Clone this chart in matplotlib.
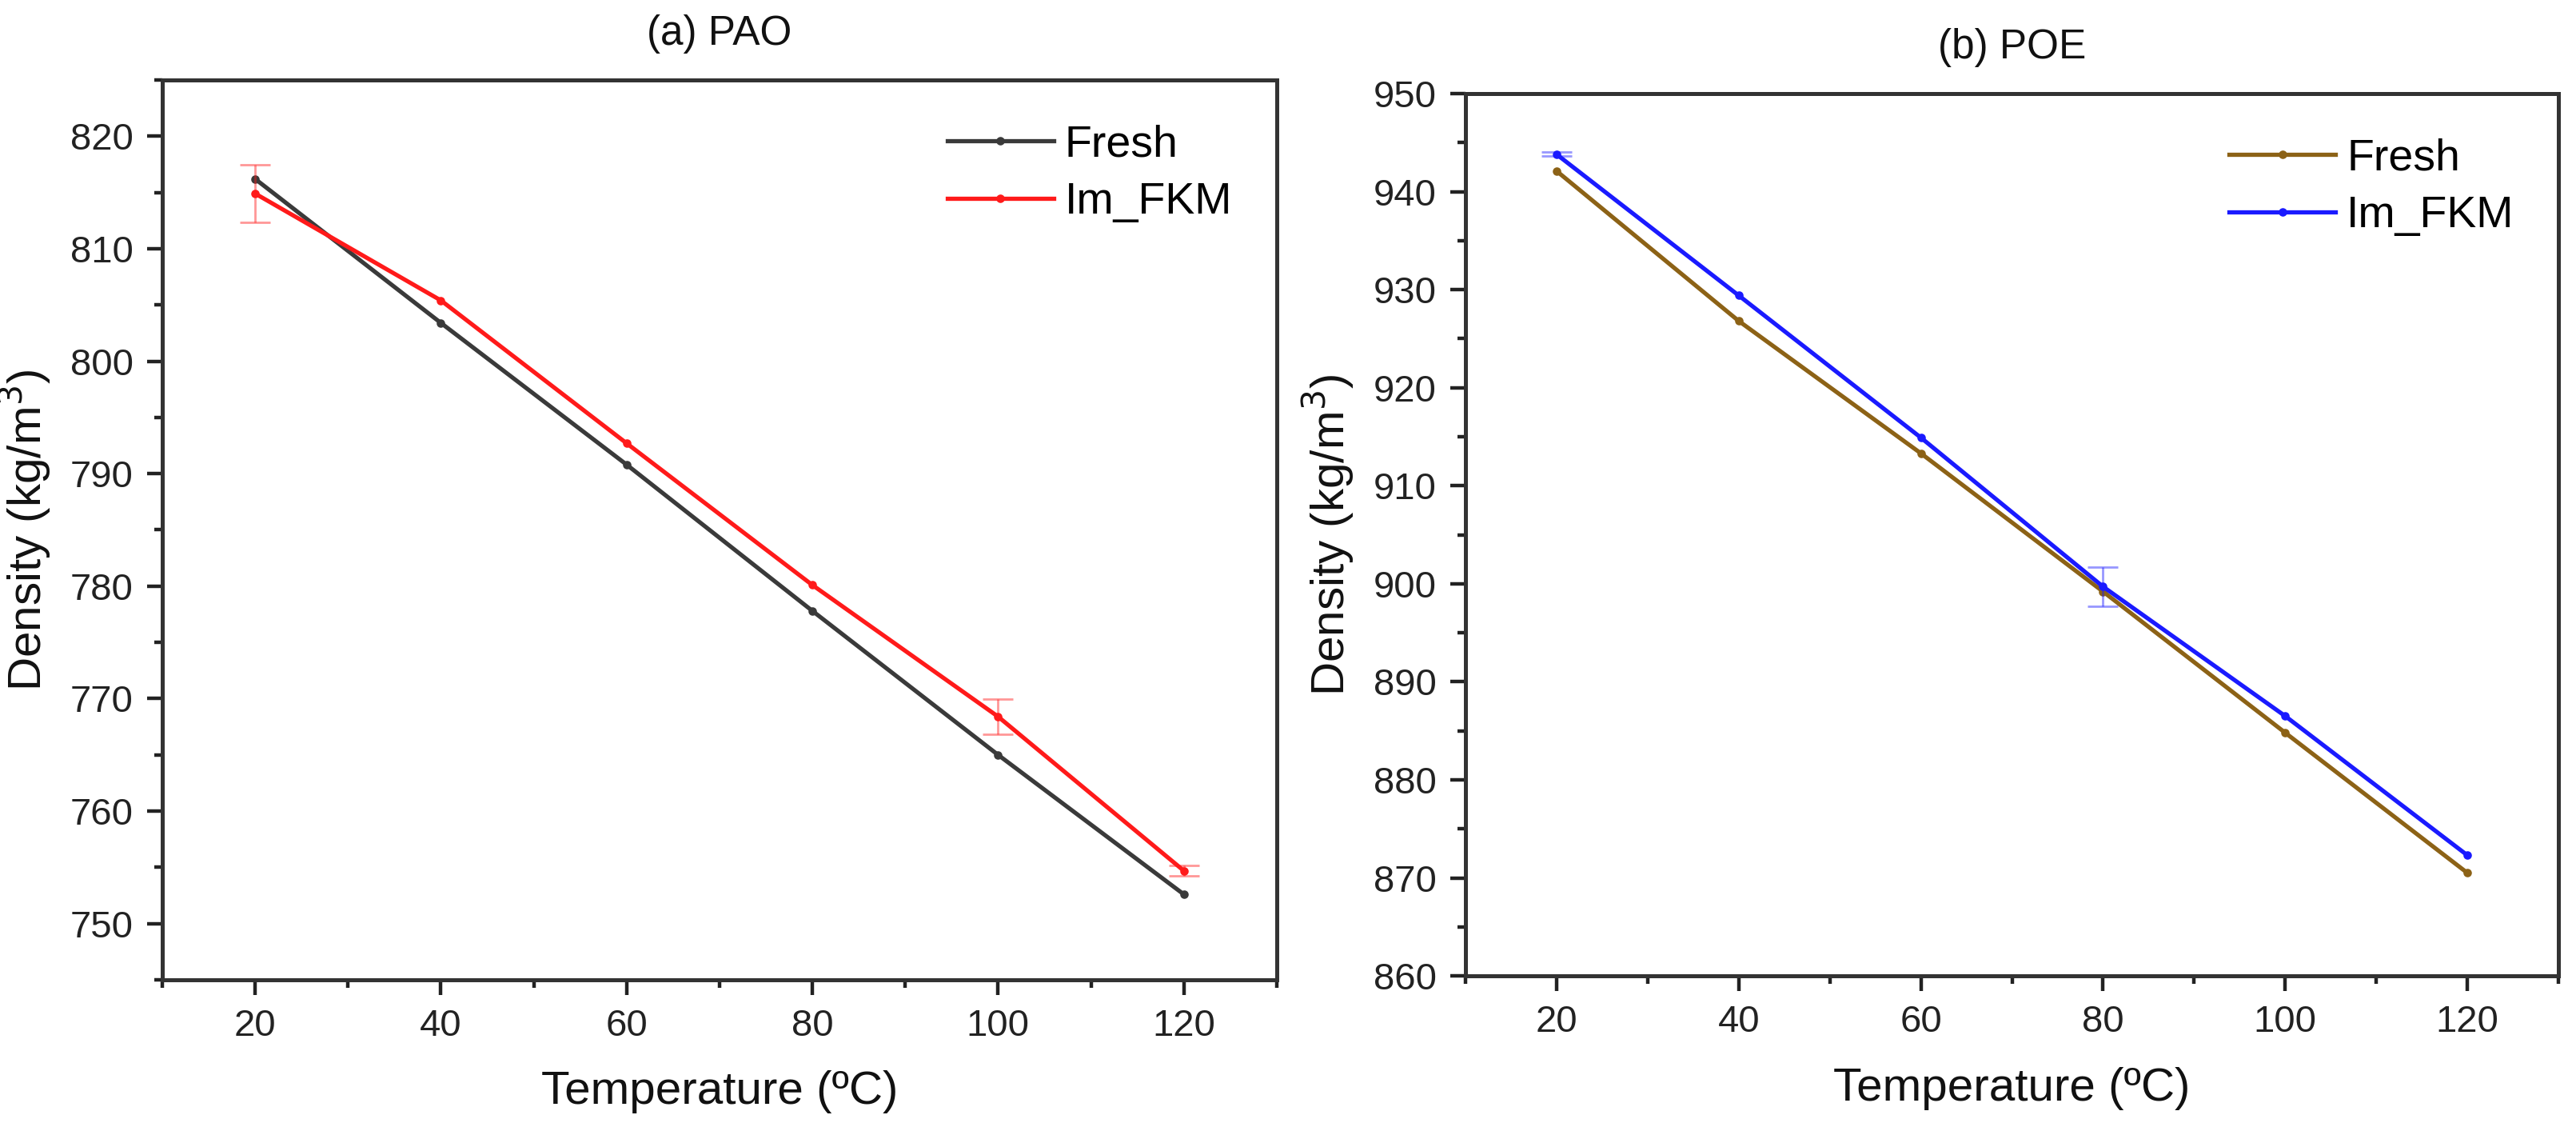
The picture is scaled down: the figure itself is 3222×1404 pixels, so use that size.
import matplotlib
matplotlib.use("Agg")
import matplotlib.pyplot as plt
from matplotlib.ticker import MultipleLocator
from matplotlib.lines import Line2D

plt.rcParams['font.family'] = ['Liberation Sans', 'DejaVu Sans']

temperature = [20, 40, 60, 80, 100, 120]

pao_fresh = [816.2, 803.4, 790.8, 777.8, 765.0, 752.6]
pao_fresh_err = [0.0, 0.0, 0.0, 0.0, 0.0, 0.0]
pao_imfkm = [814.9, 805.4, 792.7, 780.1, 768.4, 754.7]
pao_imfkm_err = [2.55, 0.0, 0.0, 0.0, 1.55, 0.45]

poe_fresh = [942.1, 926.8, 913.3, 899.2, 884.8, 870.5]
poe_fresh_err = [0.0, 0.0, 0.0, 0.0, 0.0, 0.0]
poe_imfkm = [943.8, 929.4, 914.9, 899.7, 886.5, 872.3]
poe_imfkm_err = [0.2, 0.0, 0.0, 2.0, 0.0, 0.0]

titles = ["(a) PAO", "(b) POE"]
series_labels = ["Fresh", "Im_FKM"]
xlabel = "Temperature (\u00baC)"
ylabel = "Density (kg/m$^3$)"

fig = plt.figure(figsize=(16.11, 7.02), dpi=200)
ax1 = fig.add_axes([0.0630, 0.1275, 0.4326, 0.8013])
ax2 = fig.add_axes([0.5689, 0.1310, 0.4243, 0.7857])

panels = [
    (ax1, pao_fresh, pao_fresh_err, pao_imfkm, pao_imfkm_err,
     '#3a3a3a', '#ff1a1a', (745, 825), 10),
    (ax2, poe_fresh, poe_fresh_err, poe_imfkm, poe_imfkm_err,
     '#8c6216', '#1a1aff', (860, 950), 10),
]

for i, (ax, f, fe, m, me, c1, c2, ylim, ystep) in enumerate(panels):
    handles = []
    for vals, errs, col, lab in ((f, fe, c1, series_labels[0]),
                                 (m, me, c2, series_labels[1])):
        ax.plot(temperature, vals, color=col, lw=1.9, marker='o', ms=2.8)
        ex = [t for t, e in zip(temperature, errs) if e > 0]
        ey = [v for v, e in zip(vals, errs) if e > 0]
        ee = [e for e in errs if e > 0]
        if ex:
            eb = ax.errorbar(ex, ey, yerr=ee, fmt='none', ecolor=col,
                             elinewidth=1.0, capsize=7, capthick=1.0)
            for part in list(eb[1]) + list(eb[2]):
                part.set_alpha(0.45)
        handles.append(Line2D([], [], color=col, lw=1.9, marker='o', ms=2.8,
                              label=lab))
    ax.set_xlim(10, 130)
    ax.set_ylim(*ylim)
    ax.xaxis.set_major_locator(MultipleLocator(20))
    ax.xaxis.set_minor_locator(MultipleLocator(10))
    ax.yaxis.set_major_locator(MultipleLocator(ystep))
    ax.yaxis.set_minor_locator(MultipleLocator(ystep / 2))
    ax.tick_params(which='major', direction='out', length=7, width=1.6,
                   labelsize=17, color='#222222', labelcolor='#222222', pad=6)
    ax.tick_params(which='minor', direction='out', length=3.5, width=1.6,
                   color='#222222')
    ax.tick_params(top=False, right=False)
    for s in ax.spines.values():
        s.set_linewidth(1.8)
        s.set_color('#333333')
    ax.set_xlabel(xlabel, fontsize=21, labelpad=12, color='#111111')
    ax.set_ylabel(ylabel, fontsize=21, labelpad=8, color='#111111')
    ax.set_title(titles[i], fontsize=18.5, pad=16, color='#111111')
    ax.legend(handles=handles, loc='upper right', frameon=False, fontsize=20,
              handlelength=2.4, handletextpad=0.25, labelspacing=0.35,
              borderaxespad=0.6)

fig.savefig("out.png", dpi=200)
